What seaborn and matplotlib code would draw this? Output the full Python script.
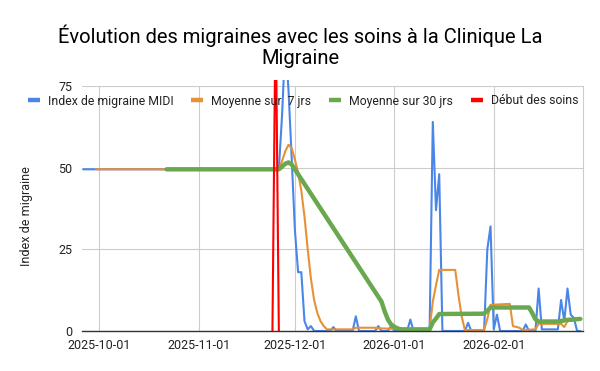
import pandas as pd
import matplotlib
matplotlib.use("Agg")
import matplotlib.pyplot as plt
import matplotlib.dates as mdates
from matplotlib.transforms import Bbox, TransformedBbox
import seaborn as sns

# values (knots of each line)
midi_dates = ["2025-09-26", "2025-11-26", "2025-11-27", "2025-11-28", "2025-11-29", "2025-11-30",
              "2025-12-01", "2025-12-02", "2025-12-03", "2025-12-04", "2025-12-05", "2025-12-06",
              "2025-12-07", "2025-12-12", "2025-12-13", "2025-12-14", "2025-12-19", "2025-12-20",
              "2025-12-21", "2025-12-26", "2025-12-27", "2025-12-28", "2025-12-30", "2025-12-31",
              "2026-01-01", "2026-01-05", "2026-01-06", "2026-01-07", "2026-01-12", "2026-01-13",
              "2026-01-14", "2026-01-15", "2026-01-16", "2026-01-23", "2026-01-24", "2026-01-25",
              "2026-01-29", "2026-01-30", "2026-01-31", "2026-02-01", "2026-02-02", "2026-02-03",
              "2026-02-10", "2026-02-11", "2026-02-12", "2026-02-14", "2026-02-15", "2026-02-16",
              "2026-02-21", "2026-02-22", "2026-02-23", "2026-02-24", "2026-02-25", "2026-02-26",
              "2026-02-27", "2026-02-28"]
midi_vals = [49.5, 49.5, 66, 88, 74, 53,
             31, 18, 18, 3, 0.5, 1.5,
             0, 0, 1.2, 0, 0, 4.5,
             0, 0, 1.5, 0, 0, 1.5,
             0, 0, 3.5, 0, 0, 64,
             37, 48, 0, 0, 2.5, 0,
             0, 25, 32, 0.5, 5, 0,
             0, 2, 0, 0, 13, 0.5,
             0.5, 9.5, 3, 13, 5, 4,
             0, 0]

ma7_dates = ["2025-09-30", "2025-11-26", "2025-11-27", "2025-11-28", "2025-11-29", "2025-11-30",
             "2025-12-01", "2025-12-02", "2025-12-03", "2025-12-04", "2025-12-05", "2025-12-06",
             "2025-12-07", "2025-12-08", "2025-12-09", "2025-12-10", "2025-12-11", "2025-12-19",
             "2025-12-20", "2025-12-26", "2025-12-27", "2026-01-12", "2026-01-13", "2026-01-14",
             "2026-01-15", "2026-01-20", "2026-01-21", "2026-01-22", "2026-01-23", "2026-01-29",
             "2026-01-30", "2026-01-31", "2026-02-06", "2026-02-07", "2026-02-09", "2026-02-10",
             "2026-02-14", "2026-02-15", "2026-02-22", "2026-02-23", "2026-02-24", "2026-02-28"]
ma7_vals = [49.5, 49.5, 52, 55, 57, 56,
            52.5, 48.5, 43, 35, 25, 16,
            9.5, 5.5, 3, 1.5, 0.5, 0.5,
            1, 1, 0.8, 0.5, 9, 14,
            18.7, 18.7, 11, 4.5, 0.3, 0.3,
            3.7, 8, 8.3, 1.5, 1, 0.3,
            0.5, 2.2, 2.2, 1.2, 3, 3.5]

ma30_dates = ["2025-10-22", "2025-11-26", "2025-11-27", "2025-11-28", "2025-11-29", "2025-11-30",
              "2025-12-28", "2025-12-29", "2025-12-30", "2025-12-31", "2026-01-01", "2026-01-02",
              "2026-01-03", "2026-01-12", "2026-01-13", "2026-01-14", "2026-01-15", "2026-01-29",
              "2026-01-30", "2026-01-31", "2026-02-12", "2026-02-13", "2026-02-14", "2026-02-15",
              "2026-02-21", "2026-02-24", "2026-02-28"]
ma30_vals = [49.5, 49.5, 50.3, 51.2, 51.6, 51,
             9, 6, 3.5, 2, 1.3, 0.8,
             0.5, 0.5, 2.6, 3.8, 5.2, 5.3,
             6.2, 7.2, 7.2, 5.5, 3.6, 2.9,
             2.9, 3.4, 3.7]

start_dates = ["2025-11-24", "2025-11-25", "2025-11-26"]
start_vals = [0, 100, 0]

series = [
    ("Index de migraine MIDI", midi_dates, midi_vals, "#4a86e8", 1.5),
    ("Moyenne sur  7 jrs", ma7_dates, ma7_vals, "#e69138", 1.5),
    ("Moyenne sur 30 jrs", ma30_dates, ma30_vals, "#6aa84f", 3.2),
    ("Début des soins", start_dates, start_vals, "#ff0000", 1.5),
]

sns.set_theme(style="white")
plt.rcParams['font.family'] = ['Roboto', 'DejaVu Sans']

fig = plt.figure(figsize=(6, 3.71), dpi=100)
ax = fig.add_axes([82 / 600, 1 - 331 / 371, 501 / 600, 245 / 371])

# a little room above the plot, the lines run slightly past the top gridline
clip = TransformedBbox(Bbox([[0, -0.02], [1, 1.025]]), ax.transAxes)

handles = []
for name, d, v, color, lw in series:
    df = pd.DataFrame({"date": pd.to_datetime(d), "value": v})
    n = len(ax.lines)
    sns.lineplot(data=df, x="date", y="value", ax=ax, color=color, linewidth=lw,
                 sort=False, estimator=None)
    for ln in ax.lines[n:]:
        ln.set_clip_box(clip)
    handles.append(plt.Line2D([], [], color=color, linewidth=3.2, solid_capstyle="butt"))

ax.set_xlim(pd.Timestamp("2025-09-25 15:00"), pd.Timestamp("2026-02-28 20:00"))
ax.set_ylim(0, 75)
ax.set_yticks([0, 25, 50, 75])
ax.xaxis.set_major_locator(mdates.MonthLocator())
ax.xaxis.set_major_formatter(mdates.DateFormatter("%Y-%m-%d"))
ax.grid(True, color="#cccccc", linewidth=0.8)
ax.set_axisbelow(True)
for s in ["left", "top"]:
    ax.spines[s].set_visible(False)
ax.spines["right"].set_color("#cccccc")
ax.spines["right"].set_linewidth(0.8)
ax.spines["bottom"].set_color("#333333")
ax.spines["bottom"].set_linewidth(1.0)
ax.tick_params(axis="both", length=0, labelsize=9, colors="#222222")
ax.tick_params(axis="x", pad=6)
ax.tick_params(axis="y", pad=7)

ax.set_xlabel("")
ax.set_ylabel("Index de migraine", fontsize=9, color="#222222")
ax.yaxis.set_label_coords(-0.098, 0.47)

fig.legend(handles, [s[0] for s in series], loc="center", ncol=4, frameon=False,
           bbox_to_anchor=(0.505, 1 - 101 / 371), fontsize=8.8, handlelength=1.0,
           handletextpad=0.65, columnspacing=1.45, labelcolor="#222222")

fig.text(0.5, 1 - 36 / 371, "Évolution des migraines avec les soins à la Clinique La",
         ha="center", va="center", fontsize=14.5, color="#000000")
fig.text(0.5, 1 - 58 / 371, "Migraine",
         ha="center", va="center", fontsize=14.5, color="#000000")

fig.savefig("out.png", dpi=100, facecolor="white")
